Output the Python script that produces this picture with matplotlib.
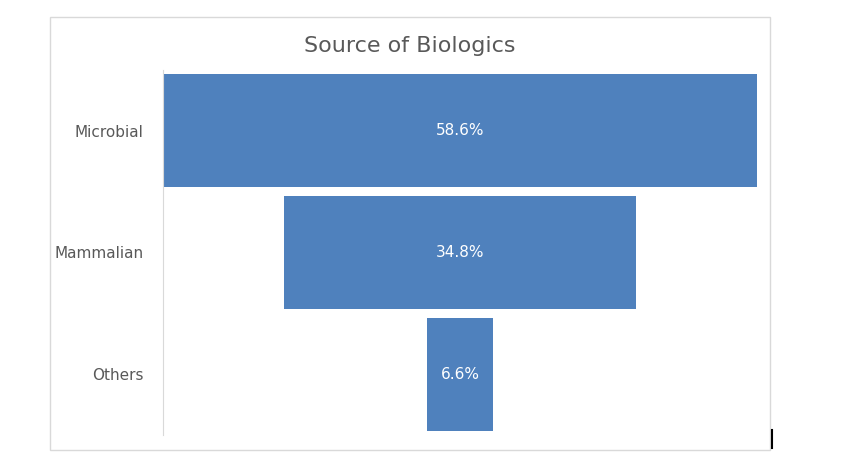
import matplotlib.pyplot as plt
from matplotlib.patches import Rectangle
from matplotlib.lines import Line2D

categories = ["Microbial", "Mammalian", "Others"]
shares = [58.6, 34.8, 6.6]
labels = ["58.6%", "34.8%", "6.6%"]

W, H = 865, 463
fig = plt.figure(figsize=(W / 100, H / 100), dpi=100)
fig.patch.set_facecolor("white")

# chart area border
fig.add_artist(Rectangle((50 / W, 1 - 450 / H), 720 / W, 433 / H,
                         transform=fig.transFigure, fill=False,
                         edgecolor="#d9d9d9", linewidth=1))
# stray cursor mark at bottom right
fig.add_artist(Line2D([772 / W, 772 / W], [1 - 448 / H, 1 - 430 / H],
                      transform=fig.transFigure, color="black", linewidth=1.5))

ax = fig.add_axes([163 / W, 1 - 435 / H, 594 / W, 365 / H])
y = list(range(len(categories)))
lefts = [-v / 2 for v in shares]
ax.barh(y, shares, left=lefts, height=0.93, color="#4F81BD")
for yi, lab in zip(y, labels):
    ax.text(0, yi, lab, ha="center", va="center", color="white", fontsize=11)

ax.set_xlim(-29.3, 29.3)
ax.set_ylim(2.5, -0.5)
ax.set_yticks(y)
ax.set_yticklabels(categories, fontsize=11, color="#595959")
ax.tick_params(axis="y", length=0, pad=14)
ax.set_xticks([])
for s in ["top", "right", "bottom"]:
    ax.spines[s].set_visible(False)
ax.spines["left"].set_color("#d9d9d9")

fig.text(410 / W, 1 - 46 / H, "Source of Biologics", ha="center", va="center",
         fontsize=16, color="#595959")

fig.savefig("out.png", dpi=100)
